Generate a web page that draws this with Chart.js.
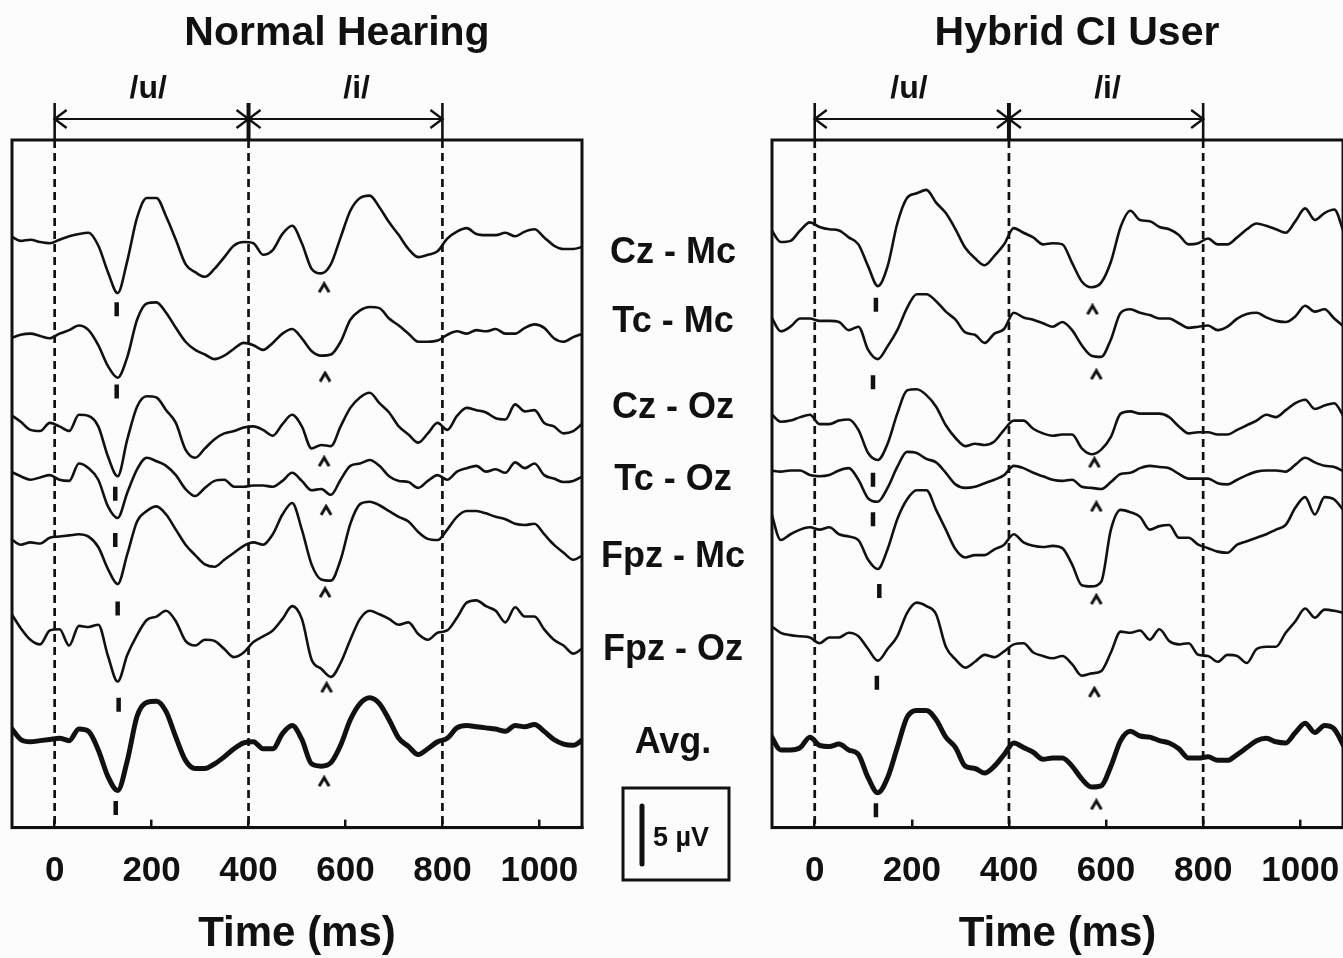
<!DOCTYPE html>
<html><head><meta charset="utf-8">
<script src="https://cdn.jsdelivr.net/npm/chart.js@4.4.1/dist/chart.umd.min.js"></script>
<style>
html,body{margin:0;padding:0;background:#fcfcfc;overflow:hidden;width:1343px;height:958px;position:relative;}
#wrapL{position:absolute;left:0;top:0;width:760px;height:960px;}
#wrapR{position:absolute;left:760px;top:0;width:634px;height:960px;}
canvas{display:block;}
</style></head><body>
<div id="wrapL"><canvas id="cL" width="760" height="960"></canvas></div>
<div id="wrapR"><canvas id="cR" width="634" height="960"></canvas></div>
<script>
// ---- data ----
const times = [-90,-70,-50,-30,-10,10,30,50,70,90,110,130,150,170,190,210,230,250,270,290,310,330,350,370,390,410,430,450,470,490,510,530,550,570,590,610,630,650,670,690,710,730,750,770,790,810,830,850,870,890,910,930,950,970,990,1010,1030,1050,1070,1090];
const xTickValues = [0,200,400,600,800,1000];
const stimulusBounds = [0,400,800];
const phonemes = ['/u/','/i/'];
const traceNames = ['Cz - Mc','Tc - Mc','Cz - Oz','Tc - Oz','Fpz - Mc','Fpz - Oz','Avg.'];
const panelTitles = ['Normal Hearing','Hybrid CI User'];
const scaleBarUV = 5;

// Normal hearing (µV, relative to each trace baseline)
const nhCzMc = [0.6,0.2,0.3,0.1,0.0,0.3,0.6,0.8,0.9,-0.2, -2.5,-4.3,-1.5,2.2,3.9,3.9,2.3,0.3,-1.8,-2.5, -2.9,-2.2,-1.2,-0.2,0.1,0.0,-1.0,-0.6,0.8,1.5, 0.0,-2.2,-2.6,-1.8,0.5,2.8,3.9,4.1,3.1,1.8, 0.7,-0.5,-1.2,-1.0,-0.7,0.4,1.0,1.3,0.8,0.7, 0.7,0.9,0.6,1.0,1.2,0.5,-0.2,-0.5,-0.5,-0.3];
const nhTcMc = [0.0,0.3,0.4,0.2,0.0,0.4,0.7,1.1,0.7,-0.6, -2.4,-3.4,-1.6,1.6,3.0,3.1,2.2,0.9,-0.3,-1.0, -1.4,-1.8,-1.5,-0.9,-0.4,-0.6,-1.0,-0.4,0.4,0.8, 0.0,-1.1,-1.5,-1.4,-0.3,1.6,2.4,2.7,2.6,1.7, 1.1,0.4,-0.3,-0.3,-0.2,0.3,0.6,0.4,0.7,0.6, 0.8,0.4,0.4,0.9,1.2,0.9,0.0,-0.3,0.1,0.4];
const nhCzOz = [0.7,0.1,-0.6,-0.7,0.0,-0.3,-0.7,0.7,0.6,-0.3, -2.9,-4.6,-1.4,1.4,2.3,2.2,1.1,0.0,-2.3,-3.0, -2.2,-1.4,-0.9,-0.7,-0.4,-0.3,-0.6,-1.1,-0.1,0.7, -0.3,-2.2,-1.9,-2.0,-0.3,1.3,2.2,2.6,1.7,0.9, -0.3,-1.0,-1.7,-0.9,0.0,-0.6,0.6,1.3,1.1,0.9, 0.4,0.3,1.6,1.0,1.1,0.0,-0.3,-0.9,-0.7,0.0];
const nhTcOz = [0.4,0.0,-0.3,-0.1,0.1,-0.3,-0.4,1.1,0.7,-0.3, -2.6,-3.6,-1.4,0.6,1.6,1.3,0.9,0.1,-1.1,-1.7, -1.0,-0.4,-0.3,-0.9,-0.9,-0.8,-0.8,-0.9,-0.4,0.3, -0.4,-1.2,-1.1,-1.6,-0.3,0.9,1.1,1.4,0.9,0.0, -0.4,-0.5,-1.0,-0.4,0.1,-0.3,0.4,0.7,0.9,0.4, 0.6,0.3,1.2,0.7,1.1,0.1,-0.2,-0.5,-0.4,0.0];
const nhFpzMc = [0.3,-0.2,0.0,-0.1,0.4,0.5,0.6,0.7,0.5,-0.4, -2.3,-3.6,-1.0,1.8,2.7,3.1,2.4,1.1,-0.2,-1.1, -1.9,-2.1,-1.5,-0.9,-0.3,0.0,-0.2,0.7,2.4,3.4, 1.1,-1.9,-3.2,-3.3,-1.5,1.6,3.3,3.5,3.2,2.7, 2.2,1.8,0.9,0.3,0.2,1.1,2.2,2.7,2.7,2.5, 2.2,2.0,1.6,1.5,1.6,0.7,-0.2,-0.9,-1.5,-1.1];
const nhFpzOz = [1.4,0.1,-0.9,-1.3,-0.1,0.0,-1.4,0.3,0.2,0.4, -2.3,-4.5,-2.2,-0.5,0.8,1.1,1.6,0.7,-1.0,-1.4, -0.9,-1.0,-1.7,-2.4,-2.0,-1.1,-0.6,-0.1,0.9,2.0, 0.9,-2.6,-3.4,-4.1,-2.9,-0.9,0.9,1.6,1.3,0.9, 0.4,0.6,-0.4,-0.9,-0.3,-0.1,1.0,2.3,2.5,2.0, 1.6,0.6,1.9,1.1,1.1,0.0,-0.9,-1.4,-2.1,-1.6];
const nhAvg = [0.9,-0.1,-0.3,-0.2,-0.1,0.0,-0.2,0.8,0.6,-1.0, -3.3,-4.5,-1.9,1.9,3.1,3.2,2.3,0.1,-1.9,-2.6, -2.6,-2.2,-1.6,-0.9,-0.4,-0.3,-0.9,-0.9,0.4,1.1, -0.1,-2.2,-2.4,-2.1,-0.6,1.6,3.0,3.5,3.0,1.6, 0.0,-0.7,-1.4,-0.9,-0.3,0.0,0.9,1.1,1.0,0.9, 0.8,0.6,1.1,1.0,1.2,0.6,-0.1,-0.5,-0.6,-0.1];
const nhBaselines = [50.4,42.2,34.9,30.3,24.6,17.1,7.7];
const nhN1Times = [128,128,125,125,130,132,126];
const nhN1Marks = [44.7,37.6,28.8,24.8,18.9,10.6,1.7];
const nhCaretTimes = [556,558,556,560,558,561,556];
const nhCaretMarks = [46.6,38.9,31.6,27.4,20.3,12.1,4.0];

// Hybrid CI user
const ciCzMc = [0.9,-0.2,-0.1,0.8,1.5,1.1,0.9,0.8,0.2,-0.4, -2.3,-4.0,-2.3,1.4,3.6,4.0,4.3,3.2,2.3,0.9, -0.7,-1.6,-2.2,-1.4,-0.4,1.0,0.6,0.2,-0.4,-0.3, -0.4,-2.0,-3.6,-4.1,-3.7,-1.9,1.1,2.5,1.7,1.6, 1.1,0.9,0.4,-0.4,-0.3,0.1,-0.4,-0.4,0.2,0.9, 1.4,1.2,0.9,0.6,1.6,2.7,1.7,2.3,2.6,0.6];
const ciTcMc = [0.3,-1.0,-0.6,0.1,0.1,-0.1,-0.1,-0.2,-0.9,-0.6, -2.6,-3.4,-2.3,-0.9,1.0,2.2,2.2,1.6,0.7,0.0, -1.1,-1.3,-2.0,-1.2,-0.8,0.6,0.2,0.0,-0.3,-0.6, -0.2,-0.9,-2.2,-3.1,-3.2,-1.7,0.6,0.9,0.6,0.4, 0.1,0.1,-0.3,-0.7,-0.6,-0.5,-0.9,-0.6,0.1,0.5, 0.6,0.2,-0.1,-0.2,0.3,1.2,0.7,0.9,0.1,-0.6];
const ciCzOz = [0.7,0.0,0.1,0.4,0.6,-0.2,-0.2,0.1,0.2,-0.7, -2.7,-3.3,-1.9,0.7,2.7,2.8,2.3,1.3,-0.3,-1.4, -2.1,-1.9,-2.0,-1.7,-0.7,0.1,0.1,-0.6,-1.0,-1.2, -1.1,-1.1,-2.3,-2.8,-2.4,-1.3,0.7,0.9,0.7,0.7, 0.7,0.4,-0.4,-1.0,-0.9,-0.9,-1.1,-1.1,-0.7,-0.3, 0.1,0.6,0.4,1.0,1.6,1.9,1.1,1.4,1.6,0.4];
const ciTcOz = [0.1,0.0,0.1,0.1,-0.3,-0.4,-0.3,0.1,0.3,-0.7, -2.3,-2.6,-1.4,0.4,1.7,1.6,1.1,0.8,-0.1,-1.1, -1.4,-1.3,-1.0,-0.7,-0.3,0.5,0.3,-0.1,-0.4,-0.7, -0.8,-0.7,-1.3,-1.4,-1.5,-0.9,-0.2,-0.1,0.3,0.5, 0.4,0.3,-0.2,-0.6,-0.6,-0.6,-1.0,-1.1,-0.7,-0.3, 0.0,0.1,0.1,0.0,0.6,1.2,0.8,0.5,0.4,0.0];
const ciFpzMc = [1.5,-0.9,-0.4,0.0,0.2,0.0,0.2,-0.4,-0.6,-0.9, -2.6,-3.4,-1.7,0.9,2.6,3.4,3.4,1.7,0.0,-1.7, -2.4,-2.2,-2.2,-1.7,-1.3,-0.4,-1.1,-1.4,-1.5,-1.4, -1.6,-3.0,-4.8,-4.9,-4.5,0.0,1.7,1.5,1.1,0.0, 0.3,0.4,-0.7,-0.7,-1.3,-1.6,-1.9,-2.0,-1.3,-1.0, -0.7,-0.4,0.0,0.4,1.9,2.8,1.3,2.8,2.6,1.6];
const ciFpzOz = [0.9,0.3,0.1,0.0,-0.1,-0.6,-0.1,-0.1,0.3,0.0, -1.1,-2.1,-1.1,0.0,2.0,2.9,2.6,1.9,-0.9,-2.0, -2.7,-2.2,-1.6,-1.8,-1.3,-0.7,-0.6,-1.4,-1.7,-1.9, -1.7,-2.4,-3.4,-3.2,-3.0,-1.4,0.4,0.3,0.5,-0.3, 0.6,-0.4,-0.7,-0.6,-1.6,-1.7,-2.2,-1.6,-1.7,-2.3, -1.1,-0.9,-0.9,0.3,1.3,2.4,1.6,2.3,2.2,2.0];
const ciAvg = [1.0,-0.2,-0.2,0.0,0.9,0.2,0.1,0.3,-0.2,-0.6, -2.6,-3.9,-2.6,0.0,2.6,3.2,3.2,2.4,0.9,0.0, -1.6,-1.8,-2.2,-1.6,-0.6,0.4,0.0,-0.4,-1.0,-0.9, -0.9,-1.6,-2.7,-3.4,-3.3,-1.6,0.6,1.4,1.0,0.9, 0.6,0.4,-0.1,-0.9,-0.9,-0.8,-1.1,-1.1,-0.6,0.0, 0.6,0.8,0.5,0.4,1.3,2.1,1.3,1.9,1.6,0.1];
const ciBaselines = [50.7,43.8,35.0,30.7,25.7,16.5,6.9];
const ciN1Times = [126,120,120,120,133,128,126];
const ciN1Marks = [45.1,38.4,30.0,26.6,20.4,12.5,1.5];
const ciCaretTimes = [572,580,576,580,580,576,580];
const ciCaretMarks = [44.7,39.1,31.5,27.7,19.7,11.7,2.0];

// ---- rendering ----
const FONT = '"Liberation Sans", Arial, Helvetica, sans-serif';
const INK = '#111';
Chart.defaults.font.family = FONT;
Chart.defaults.color = INK;

const caretImg = document.createElement('canvas');
caretImg.width = 14; caretImg.height = 12;
(function(){const g = caretImg.getContext('2d'); g.strokeStyle = INK; g.lineWidth = 3; g.beginPath(); g.moveTo(2,11); g.lineTo(7,2.5); g.lineTo(12,11); g.stroke();})();

function buildDatasets(series, baselines, n1T, n1Y, cT, cY){
  const ds = series.map((vals,i)=>({
    type:'line',
    data: times.map((t,k)=>({x:t, y: baselines[i] + vals[k]})),
    borderColor: INK, borderWidth: i === series.length-1 ? 5 : 2.6,
    pointRadius: 0, cubicInterpolationMode: 'monotone', fill: false
  }));
  ds.push({type:'scatter', data: n1T.map((t,i)=>({x:t, y:n1Y[i]})), pointStyle:'line', pointRotation:90, pointRadius:7, pointBorderWidth:4.5, pointBorderColor:INK, pointBackgroundColor:INK});
  ds.push({type:'scatter', data: cT.map((t,i)=>({x:t, y:cY[i]})), pointStyle: caretImg, pointRadius:6});
  return ds;
}

function decor(cfg){
  return {
    id: 'decor',
    beforeDatasetsDraw(chart){
      const {ctx, chartArea:a, scales:{x}} = chart;
      ctx.save(); ctx.strokeStyle = INK; ctx.lineWidth = 2.7; ctx.setLineDash([8,5]);
      stimulusBounds.forEach(b=>{const p = x.getPixelForValue(b); ctx.beginPath(); ctx.moveTo(p, a.top); ctx.lineTo(p, a.bottom); ctx.stroke();});
      ctx.restore();
    },
    afterDraw(chart){
      const {ctx, chartArea:a, scales:{x, y}} = chart;
      const px = v => x.getPixelForValue(v);
      ctx.save();
      ctx.strokeStyle = INK; ctx.fillStyle = INK; ctx.setLineDash([]);
      ctx.lineWidth = 3; ctx.strokeRect(a.left, a.top, a.right - a.left, a.bottom - a.top);
      // title
      ctx.font = 'bold 41px ' + FONT; ctx.textAlign = 'center'; ctx.textBaseline = 'middle';
      ctx.fillText(cfg.title, cfg.titleX, 34);
      // stimulus arrows
      const yA = 119, yT = 103;
      ctx.lineWidth = 2.2;
      ctx.beginPath(); ctx.moveTo(px(stimulusBounds[0]), yA); ctx.lineTo(px(stimulusBounds[2]), yA); ctx.stroke();
      stimulusBounds.forEach((b,i)=>{ctx.lineWidth = i===1 ? 4 : 2.6; ctx.beginPath(); ctx.moveTo(px(b), yT); ctx.lineTo(px(b), a.top); ctx.stroke();});
      ctx.lineWidth = 2.4;
      const head = (xp, dir)=>{ctx.beginPath(); ctx.moveTo(xp + dir*12, yA - 9); ctx.lineTo(xp, yA); ctx.lineTo(xp + dir*12, yA + 9); ctx.stroke();};
      head(px(stimulusBounds[0]), 1); head(px(stimulusBounds[1]), -1); head(px(stimulusBounds[1]), 1); head(px(stimulusBounds[2]), -1);
      ctx.font = 'bold 32px ' + FONT;
      phonemes.forEach((p,i)=> ctx.fillText(p, px(cfg.phonemeAt[i]), 89));
      if (cfg.middle){
        ctx.font = 'bold 36px ' + FONT;
        traceNames.forEach((n,i)=> ctx.fillText(n, 673, cfg.labelY[i]));
        // scale bar
        ctx.lineWidth = 3; ctx.strokeRect(623, 788, 106, 92);
        const len = y.getPixelForValue(0) - y.getPixelForValue(scaleBarUV);
        ctx.lineWidth = 5; ctx.lineCap = 'round';
        ctx.beginPath(); ctx.moveTo(642, 806); ctx.lineTo(642, 806 + len); ctx.stroke();
        ctx.font = 'bold 27px ' + FONT; ctx.textAlign = 'left';
        ctx.fillText(scaleBarUV + ' \u00b5V', 653, 839);
      }
      ctx.restore();
    }
  };
}

function makeChart(id, datasets, padding, cfg){
  return new Chart(document.getElementById(id), {
    data: {datasets},
    options: {
      responsive: false, animation: false, events: [],
      layout: {padding},
      plugins: {legend:{display:false}, tooltip:{enabled:false}, title:{display:false}},
      scales: {
        x: {
          type: 'linear', min: -88, max: 1088,
          afterBuildTicks: s => { s.ticks = xTickValues.map(v=>({value:v})); },
          ticks: {font:{size:35, weight:'bold'}, color: INK, padding: 31, maxRotation: 0, autoSkip: false, callback: v => String(v)},
          grid: {drawOnChartArea: false, drawTicks: true, tickLength: -8, color: INK, lineWidth: 2.5},
          border: {display: true, color: INK, width: 3},
          title: {display: true, text: 'Time (ms)', font:{size:42, weight:'bold'}, color: INK, padding:{top:-14, bottom:0}}
        },
        y: {type: 'linear', display: false, min: 0, max: 59.3}
      }
    },
    plugins: [decor(cfg)]
  });
}

makeChart('cL',
  buildDatasets([nhCzMc,nhTcMc,nhCzOz,nhTcOz,nhFpzMc,nhFpzOz,nhAvg], nhBaselines, nhN1Times, nhN1Marks, nhCaretTimes, nhCaretMarks),
  {left:12, right:178, top:140, bottom:0},
  {title: panelTitles[0], titleX: 337, phonemeAt:[193,623], middle:true, labelY:[253,322,408,480,557,650,743]});

makeChart('cR',
  buildDatasets([ciCzMc,ciTcMc,ciCzOz,ciTcOz,ciFpzMc,ciFpzOz,ciAvg], ciBaselines, ciN1Times, ciN1Marks, ciCaretTimes, ciCaretMarks),
  {left:12, right:51, top:140, bottom:0},
  {title: panelTitles[1], titleX: 317, phonemeAt:[194,603], middle:false});
</script>
</body></html>
